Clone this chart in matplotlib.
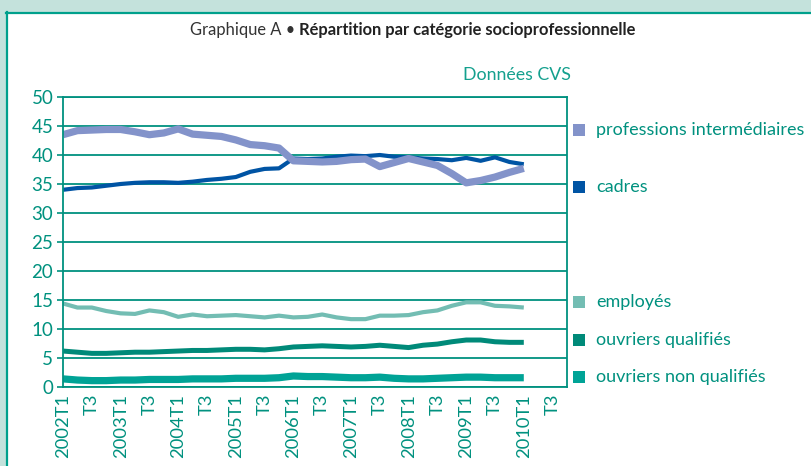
import matplotlib.pyplot as plt
from matplotlib.patches import Rectangle
from matplotlib.lines import Line2D

# quarters 2002T1 .. 2010T1
years = list(range(2002, 2011))
tick_labels = []
for y in years:
    tick_labels += [f"{y}T1", "T3"]

prof_inter = [43.5, 44.2, 44.3, 44.4, 44.4, 44.0, 43.5, 43.8, 44.5, 43.6, 43.4, 43.2,
              42.6, 41.8, 41.6, 41.2, 39.0, 38.9, 38.8, 38.9, 39.2, 39.3, 38.0, 38.7,
              39.4, 38.8, 38.2, 36.8, 35.2, 35.6, 36.2, 37.0, 37.7]
cadres = [34.0, 34.3, 34.4, 34.7, 35.0, 35.2, 35.3, 35.3, 35.2, 35.4, 35.7, 35.9,
          36.2, 37.1, 37.6, 37.7, 39.4, 39.3, 39.4, 39.7, 39.9, 39.8, 40.0, 39.7,
          39.6, 39.4, 39.3, 39.1, 39.5, 39.0, 39.6, 38.8, 38.4]
employes = [14.4, 13.7, 13.7, 13.1, 12.7, 12.6, 13.2, 12.9, 12.1, 12.5, 12.2, 12.3,
            12.4, 12.2, 12.0, 12.3, 12.0, 12.1, 12.5, 12.0, 11.7, 11.7, 12.3, 12.3,
            12.4, 12.9, 13.2, 14.0, 14.6, 14.6, 14.0, 13.9, 13.7]
ouvriers_q = [6.2, 6.0, 5.8, 5.8, 5.9, 6.0, 6.0, 6.1, 6.2, 6.3, 6.3, 6.4,
              6.5, 6.5, 6.4, 6.6, 6.9, 7.0, 7.1, 7.0, 6.9, 7.0, 7.2, 7.0,
              6.8, 7.2, 7.4, 7.8, 8.1, 8.1, 7.8, 7.7, 7.7]
ouvriers_nq = [1.4, 1.2, 1.1, 1.1, 1.2, 1.2, 1.3, 1.3, 1.3, 1.4, 1.4, 1.4,
               1.5, 1.5, 1.5, 1.6, 1.9, 1.8, 1.8, 1.7, 1.6, 1.6, 1.7, 1.5,
               1.4, 1.4, 1.5, 1.6, 1.7, 1.7, 1.6, 1.6, 1.6]

teal = "#00917f"
plt.rcParams['font.family'] = ['Lato', 'DejaVu Sans']

fig = plt.figure(figsize=(8.12, 4.66), dpi=100)
fig.patch.set_facecolor("#c4e2dc")
# white panel with teal border (behind the axes)
fig.patches.append(Rectangle((6/812, 0), 1, 1 - 12/466, transform=fig.transFigure,
                             facecolor="white", edgecolor="none", zorder=-2))
fig.add_artist(Line2D([6/812, 1], [1 - 12.5/466]*2, color="#00a08c", lw=1.6, zorder=-1))
fig.add_artist(Line2D([6.5/812]*2, [0, 1 - 12/466], color="#00a08c", lw=1.6, zorder=-1))

ax = fig.add_axes([63/812, 79/466, 504/812, 290/466])
x = list(range(len(cadres)))

ax.plot(x, ouvriers_nq, color="#00a396", lw=5.2, solid_capstyle="butt")
ax.plot(x, ouvriers_q, color="#008a79", lw=3.6, solid_capstyle="butt")
ax.plot(x, employes, color="#73bdb3", lw=3.0, solid_capstyle="butt")
ax.plot(x, cadres, color="#0054a4", lw=3.0, solid_capstyle="butt")
ax.plot(x, prof_inter, color="#8393ca", lw=5.2, solid_capstyle="butt")

ax.set_xlim(0, 35)
ax.set_ylim(0, 50)
ax.set_yticks(range(0, 51, 5))
ax.set_xticks(range(0, 35, 2))
ax.set_xticklabels(tick_labels[:18], rotation=90)
ax.set_xticks(range(0, 33, 4), minor=True)
ax.tick_params(axis="x", which="major", length=0, pad=5, labelsize=13.2, labelcolor=teal)
ax.tick_params(axis="x", which="minor", length=5, width=1.2, color=teal, direction="out")
ax.tick_params(axis="y", length=4, width=1.2, color=teal, labelsize=13.5, labelcolor=teal, pad=3)
ax.grid(True, which="minor", axis="x", color=teal, lw=1.3)
ax.grid(True, which="major", axis="y", color=teal, lw=1.3)
ax.set_axisbelow(True)
for s in ax.spines.values():
    s.set_color(teal)
    s.set_linewidth(1.3)

fig.text(571/812, 1 - 75/466, "Données CVS", color="#14a08e", fontsize=12.8,
         ha="right", va="center")

# legend
legend_items = [("professions intermédiaires", "#8393ca", 130),
                ("cadres", "#0054a4", 187),
                ("employés", "#73bdb3", 302),
                ("ouvriers qualifiés", "#008a79", 340),
                ("ouvriers non qualifiés", "#00a396", 377)]
for label, col, ypix in legend_items:
    fig.patches.append(Rectangle((573/812, 1 - (ypix + 6)/466), 12/812, 12/466,
                                 transform=fig.transFigure, facecolor=col, edgecolor="none"))
    fig.text(596/812, 1 - ypix/466, label, color=teal, fontsize=13, va="center", ha="left")

# title: regular + bold
t1 = fig.text(190/812, 1 - 30/466, "Graphique A • ", color="#333333", fontsize=11.9,
              va="center", ha="left")
fig.canvas.draw()
bb = t1.get_window_extent()
fig.text(bb.x1/812, 1 - 30/466, "Répartition par catégorie socioprofessionnelle",
         color="#222222", fontsize=11.9, fontweight="bold", va="center", ha="left")

fig.savefig("out.png", dpi=100, facecolor=fig.get_facecolor())
